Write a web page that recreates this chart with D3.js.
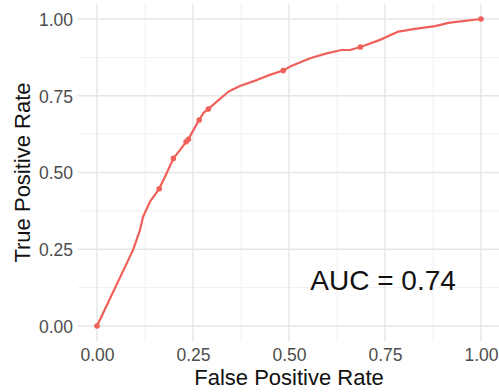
<!DOCTYPE html>
<html>
<head>
<meta charset="utf-8">
<script src="https://cdn.jsdelivr.net/npm/d3@7"></script>
<style>
  html, body { margin: 0; padding: 0; background: #fff; }
  svg { display: block; font-family: "Liberation Sans", Arial, sans-serif; }
</style>
</head>
<body>
<svg id="chart" width="499" height="392"></svg>
<script>
// ROC curve: false positive rate vs. true positive rate
const fpr = [0, 0.094, 0.112, 0.120, 0.138, 0.162, 0.181, 0.199, 0.216, 0.232, 0.238, 0.251,
             0.266, 0.278, 0.290, 0.312, 0.342, 0.372, 0.416, 0.450, 0.485, 0.503, 0.555,
             0.598, 0.637, 0.659, 0.686, 0.737, 0.785, 0.824, 0.880, 0.919, 1];
const tpr = [0, 0.248, 0.313, 0.356, 0.405, 0.447, 0.497, 0.546, 0.573, 0.600, 0.608, 0.638,
             0.671, 0.695, 0.707, 0.731, 0.763, 0.782, 0.801, 0.818, 0.832, 0.845, 0.872,
             0.888, 0.899, 0.899, 0.909, 0.932, 0.959, 0.967, 0.977, 0.988, 1];

// thresholds drawn as points
const pointFpr = [0, 0.162, 0.199, 0.232, 0.238, 0.266, 0.290, 0.485, 0.686, 1];
const pointTpr = [0, 0.447, 0.546, 0.600, 0.608, 0.671, 0.707, 0.832, 0.909, 1];

const tickValues = [0, 0.25, 0.5, 0.75, 1];
const tickLabels = ["0.00", "0.25", "0.50", "0.75", "1.00"];
const minorValues = [0.125, 0.375, 0.625, 0.875];
const aucLabel = "AUC = 0.74";

const lineColor = "#F0605A";

const svg = d3.select("#chart");

// data range 0..1 mapped with 5% expansion on each side of the panel
const x = d3.scaleLinear().domain([0, 1]).range([97, 481]);
const y = d3.scaleLinear().domain([0, 1]).range([326, 19]);
const xPanel = [x(-0.05), x(1.05)];
const yPanel = [y(-0.05), y(1.05)];

const grid = svg.append("g");
// minor grid
grid.selectAll(".vminor").data(minorValues).join("line")
  .attr("x1", d => x(d)).attr("x2", d => x(d))
  .attr("y1", yPanel[0]).attr("y2", yPanel[1])
  .attr("stroke", "#f1f1f1").attr("stroke-width", 1);
grid.selectAll(".hminor").data(minorValues).join("line")
  .attr("y1", d => y(d)).attr("y2", d => y(d))
  .attr("x1", xPanel[0]).attr("x2", xPanel[1])
  .attr("stroke", "#f1f1f1").attr("stroke-width", 1);
// major grid
grid.selectAll(".vmajor").data(tickValues).join("line")
  .attr("x1", d => x(d)).attr("x2", d => x(d))
  .attr("y1", yPanel[0]).attr("y2", yPanel[1])
  .attr("stroke", "#e6e6e6").attr("stroke-width", 1.4);
grid.selectAll(".hmajor").data(tickValues).join("line")
  .attr("y1", d => y(d)).attr("y2", d => y(d))
  .attr("x1", xPanel[0]).attr("x2", xPanel[1])
  .attr("stroke", "#e6e6e6").attr("stroke-width", 1.4);

// axes (labels only, no domain or tick marks)
const xAxis = d3.axisBottom(x).tickValues(tickValues)
  .tickFormat((d, i) => tickLabels[i]).tickSize(0).tickPadding(0);
const yAxis = d3.axisLeft(y).tickValues(tickValues)
  .tickFormat((d, i) => tickLabels[i]).tickSize(0).tickPadding(0);

const gx = svg.append("g").attr("transform", "translate(0,349)").call(xAxis);
gx.select(".domain").remove();
gx.selectAll("text").attr("dy", "0.71em").attr("fill", "#4d4d4d")
  .style("font-size", "17.5px");

const gy = svg.append("g").attr("transform", "translate(73,0)").call(yAxis);
gy.select(".domain").remove();
gy.selectAll("text").attr("dy", "0.36em").attr("fill", "#4d4d4d")
  .style("font-size", "17.5px");

// curve
const line = d3.line().x(d => x(d[0])).y(d => y(d[1]));
svg.append("path")
  .datum(d3.zip(fpr, tpr))
  .attr("d", line)
  .attr("fill", "none")
  .attr("stroke", lineColor)
  .attr("stroke-width", 2.2)
  .attr("stroke-linejoin", "round");

svg.append("g").selectAll("circle")
  .data(d3.zip(pointFpr, pointTpr)).join("circle")
  .attr("cx", d => x(d[0])).attr("cy", d => y(d[1]))
  .attr("r", 2.8).attr("fill", lineColor);

// AUC annotation
svg.append("text")
  .attr("x", x(0.745)).attr("y", 290)
  .attr("text-anchor", "middle")
  .attr("fill", "#111")
  .style("font-size", "28px")
  .text(aucLabel);

// axis titles
svg.append("text")
  .attr("x", (x(0) + x(1)) / 2).attr("y", 385)
  .attr("text-anchor", "middle")
  .attr("fill", "#111")
  .style("font-size", "22px")
  .text("False Positive Rate");

svg.append("text")
  .attr("transform", `translate(30,${(y(0) + y(1)) / 2}) rotate(-90)`)
  .attr("text-anchor", "middle")
  .attr("fill", "#111")
  .style("font-size", "22px")
  .text("True Positive Rate");
</script>
</body>
</html>
